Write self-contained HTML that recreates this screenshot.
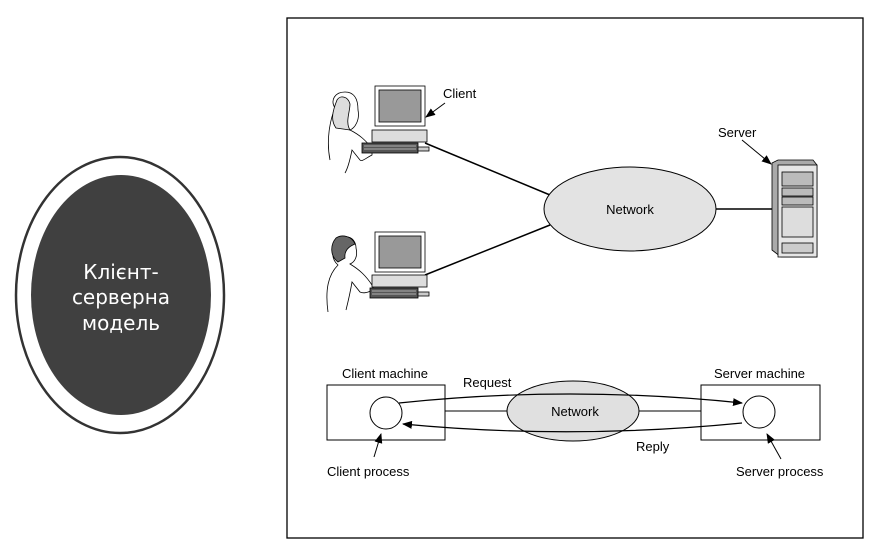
<!DOCTYPE html>
<html><head><meta charset="utf-8"><style>
body{margin:0;background:#fff;width:889px;height:558px;overflow:hidden}
svg{display:block}
text{font-family:"Liberation Sans",Arial,sans-serif;fill:#000}
</style></head><body>
<svg width="889" height="558" viewBox="0 0 889 558" xmlns="http://www.w3.org/2000/svg">
<defs>
<marker id="ah" markerWidth="10" markerHeight="8" refX="9" refY="4" orient="auto" markerUnits="userSpaceOnUse">
<path d="M0,0 L10,4 L0,8 z" fill="#000"/></marker>
</defs>
<ellipse cx="120" cy="295" rx="104" ry="138" fill="#fff" stroke="#333" stroke-width="2.5"/>
<ellipse cx="121" cy="295" rx="90" ry="120" fill="#404040"/>
<g font-size="20" text-anchor="middle">
<text x="121" y="279" style="fill:#fff;font-family:'DejaVu Sans',sans-serif">Клієнт-</text>
<text x="121" y="304" style="fill:#fff;font-family:'DejaVu Sans',sans-serif">серверна</text>
<text x="121" y="330" style="fill:#fff;font-family:'DejaVu Sans',sans-serif">модель</text>
</g>
<rect x="287" y="18" width="576" height="520" fill="none" stroke="#000" stroke-width="1.3"/>

<line x1="425" y1="143" x2="550" y2="195" stroke="#000" stroke-width="1.5"/>
<line x1="425" y1="275" x2="550" y2="225" stroke="#000" stroke-width="1.5"/>
<line x1="714" y1="209" x2="778" y2="209" stroke="#000" stroke-width="1.5"/>
<ellipse cx="630" cy="209" rx="86" ry="42" fill="#e3e3e3" stroke="#000" stroke-width="1"/>
<text x="630" y="214" font-size="13" text-anchor="middle">Network</text>

<g stroke="#000" stroke-width="0.8">
<path d="M330,160 C326,140 330,120 335,108 C330,100 335,92 345,92 C355,92 358,100 358,110 C360,120 355,128 350,130 C360,135 365,140 372,148 L372,155 C366,158 362,162 360,160 L352,150 C350,160 348,168 345,173" fill="#fff"/>
<path d="M337,100 C333,110 330,120 336,128 L350,130 C345,122 350,112 350,104 C348,96 340,95 337,100z" fill="#ddd"/>
<rect x="375" y="86" width="50" height="40" fill="#fff"/>
<rect x="379" y="90" width="42" height="32" fill="#999"/>
<rect x="372" y="130" width="55" height="12" fill="#ddd"/>
<rect x="362" y="143" width="56" height="10" fill="#555"/>
<line x1="364" y1="146" x2="416" y2="146" stroke="#ccc"/>
<line x1="364" y1="149" x2="416" y2="149" stroke="#ccc"/>
<rect x="418" y="147" width="11" height="4" fill="#ccc"/>
</g>
<g stroke="#000" stroke-width="0.8">
<path d="M328,312 C325,290 328,275 338,265 C332,260 330,250 338,240 C346,233 356,238 356,248 C358,256 355,262 350,264 C360,270 366,276 372,285 L374,290 C368,292 364,294 360,292 L352,282 C350,294 348,302 346,310" fill="#fff"/>
<path d="M336,238 C330,245 330,256 338,262 L345,258 C344,250 350,246 355,244 C352,236 342,234 336,238z" fill="#666"/>
<rect x="375" y="232" width="50" height="40" fill="#fff"/>
<rect x="379" y="236" width="42" height="32" fill="#999"/>
<rect x="372" y="275" width="55" height="12" fill="#ddd"/>
<rect x="370" y="288" width="48" height="10" fill="#555"/>
<line x1="372" y1="291" x2="416" y2="291" stroke="#ccc"/>
<line x1="372" y1="294" x2="416" y2="294" stroke="#ccc"/>
<rect x="418" y="292" width="11" height="4" fill="#ccc"/>
</g>
<text x="443" y="98" font-size="13">Client</text>
<line x1="445" y1="103" x2="426" y2="117" stroke="#000" marker-end="url(#ah)"/>

<text x="718" y="137" font-size="13">Server</text>
<line x1="742" y1="140" x2="771" y2="164" stroke="#000" marker-end="url(#ah)"/>
<g stroke="#000" stroke-width="0.8">
<path d="M772,163 L778,160 L813,160 L817,165 L817,257 L781,257 L772,250 z" fill="#aaa"/>
<rect x="778" y="165" width="39" height="92" fill="#e6e6e6"/>
<rect x="782" y="172" width="31" height="14" fill="#bbb"/>
<rect x="782" y="188" width="31" height="8" fill="#bbb"/>
<rect x="782" y="197" width="31" height="8" fill="#bbb"/>
<rect x="782" y="207" width="31" height="30" fill="#ddd"/>
<rect x="782" y="243" width="31" height="10" fill="#ccc"/>
</g>

<rect x="327" y="385" width="118" height="55" fill="#fff" stroke="#000"/>
<rect x="701" y="385" width="119" height="55" fill="#fff" stroke="#000"/>
<line x1="445" y1="411" x2="508" y2="411" stroke="#000"/>
<line x1="638" y1="411" x2="701" y2="411" stroke="#000"/>
<ellipse cx="573" cy="411" rx="66" ry="30" fill="#e0e0e0" stroke="#000"/>
<text x="575" y="416" font-size="13" text-anchor="middle">Network</text>
<circle cx="386" cy="413" r="16" fill="#fff" stroke="#000"/>
<circle cx="759" cy="412" r="16" fill="#fff" stroke="#000"/>
<path d="M399,403 Q570,385 742,403" fill="none" stroke="#000" stroke-width="1.2" marker-end="url(#ah)"/>
<path d="M742,423 Q570,440 403,424" fill="none" stroke="#000" stroke-width="1.2" marker-end="url(#ah)"/>
<text x="342" y="378" font-size="13">Client machine</text>
<text x="714" y="378" font-size="13">Server machine</text>
<text x="463" y="387" font-size="13">Request</text>
<text x="636" y="451" font-size="13">Reply</text>
<line x1="374" y1="457" x2="381" y2="434" stroke="#000" marker-end="url(#ah)"/>
<line x1="781" y1="459" x2="767" y2="434" stroke="#000" marker-end="url(#ah)"/>
<text x="327" y="476" font-size="13">Client process</text>
<text x="736" y="476" font-size="13">Server process</text>
</svg>
</body></html>
